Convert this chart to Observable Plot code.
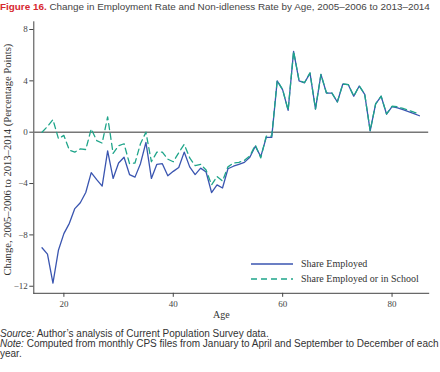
<!DOCTYPE html>
<html>
<head>
<meta charset="utf-8">
<script src="https://cdn.jsdelivr.net/npm/d3@7"></script>
<script src="https://cdn.jsdelivr.net/npm/@observablehq/plot@0.6"></script>
<style>
  html, body { margin: 0; padding: 0; background: #fff; }
  body { width: 440px; height: 372px; position: relative; overflow: hidden; }
  #title { position: absolute; left: 0; top: 1px; font-family: "Liberation Sans", Arial, sans-serif; font-size: 10px; line-height: 12px; color: #444; white-space: nowrap; }
  #title b { color: #d7282f; }
  #chart { position: absolute; left: 0; top: 20px; }
  #legend { position: absolute; left: 250px; top: 256px; font-family: "Liberation Serif", serif; font-size: 10px; color: #333; }
  #legend .row { display: flex; align-items: center; height: 15px; }
  #legend svg { margin-right: 7px; }
  #caption { position: absolute; left: 0; top: 329px; font-family: "Liberation Sans", Arial, sans-serif; font-size: 10px; line-height: 9.8px; color: #333; white-space: nowrap; }
</style>
</head>
<body>
<div id="title"><b>Figure 16.</b> Change in Employment Rate and Non-idleness Rate by Age, 2005–2006 to 2013–2014</div>
<div id="chart"></div>
<div id="legend"></div>
<div id="caption"><i>Source:</i> Author’s analysis of Current Population Survey data.<br><i>Note:</i> Computed from monthly CPS files from January to April and September to December of each<br>year.</div>
<script>
const ages = [16,17,18,19,20,21,22,23,24,25,26,27,28,29,30,31,32,33,34,35,36,37,38,39,40,41,42,43,44,45,46,47,48,49,50,51,52,53,54,55,56,57,58,59,60,61,62,63,64,65,66,67,68,69,70,71,72,73,74,75,76,77,78,79,80,81,82,83,84,85];
const shareEmployed = [-9.0,-9.5,-11.75,-9.2,-7.9,-7.1,-5.95,-5.5,-4.7,-3.15,-3.7,-4.2,-1.45,-3.6,-2.4,-1.95,-3.3,-3.5,-2.45,-0.8,-3.6,-2.5,-2.45,-3.4,-3.05,-2.75,-1.55,-2.7,-3.3,-2.8,-3.1,-4.7,-4.1,-4.35,-2.85,-2.65,-2.5,-2.35,-1.95,-1.1,-1.9,-0.4,-0.4,4.0,3.3,1.7,6.3,4.0,3.85,4.6,1.8,4.5,3.05,3.05,2.35,3.75,3.7,2.8,3.6,2.95,0.1,2.2,2.8,1.4,2.0,1.9,1.75,1.6,1.45,1.28];
const shareEmployedOrSchool = [0.0,0.45,0.98,-0.5,-0.25,-1.4,-1.55,-1.3,-1.35,0.25,-0.65,-0.85,1.2,-1.65,-1.05,-0.9,-2.45,-2.4,-0.9,0.0,-2.3,-1.55,-1.55,-2.1,-2.3,-1.6,-0.95,-2.0,-2.6,-2.5,-2.95,-4.1,-3.45,-3.8,-2.7,-2.4,-2.35,-2.2,-1.85,-1.0,-2.0,-0.3,-0.3,4.02,3.32,1.72,6.3,4.02,3.87,4.62,1.82,4.5,3.07,3.06,2.36,3.76,3.71,2.81,3.61,2.96,0.12,2.21,2.81,1.42,2.02,1.98,1.85,1.72,1.56,1.42];
const seriesNames = ["Share Employed", "Share Employed or in School"];
const seriesColors = ["#3a55b0", "#1fa58a"];
const xTicks = [20, 40, 60, 80];
const yTicks = [-12, -8, -4, 0, 4, 8];
const xLabel = "Age";
const yLabel = "Change, 2005–2006 to 2013–2014 (Percentage Points)";

const rowsA = ages.map((a, i) => ({age: a, value: shareEmployed[i]}));
const rowsB = ages.map((a, i) => ({age: a, value: shareEmployedOrSchool[i]}));

const chart = Plot.plot({
  width: 440,
  height: 302,
  marginLeft: 33.3,
  marginRight: 11.8,
  marginTop: 1.3,
  marginBottom: 29.2,
  style: {fontFamily: "'Liberation Serif', serif", fontSize: "9px", color: "#444", background: "#fff"},
  x: {domain: [14.5, 86.7], ticks: xTicks, label: null, line: true, tickSize: 4, tickPadding: 3},
  y: {domain: [-12.55, 8.6], ticks: yTicks, label: null, line: true, tickSize: 4, tickPadding: 2},
  marks: [
    Plot.ruleY([0], {stroke: "#777", strokeWidth: 1.5}),
    Plot.lineY(rowsA, {x: "age", y: "value", stroke: seriesColors[0], strokeWidth: 1.3}),
    Plot.lineY(rowsB, {x: "age", y: "value", stroke: seriesColors[1], strokeWidth: 1.3, strokeDasharray: "6,4"}),
    Plot.text([yLabel], {frameAnchor: "left", textAnchor: "middle", rotate: -90, dx: -26, dy: 2, fontSize: 10.6, fill: "#333"}),
    Plot.text([xLabel], {frameAnchor: "bottom", textAnchor: "middle", dx: -10, dy: 25, fontSize: 10, fill: "#333"})
  ]
});
document.getElementById("chart").appendChild(chart);

const legend = document.getElementById("legend");
seriesNames.forEach((name, i) => {
  const row = document.createElement("div");
  row.className = "row";
  row.innerHTML = `<svg width="44" height="6"><line x1="1" y1="3" x2="43" y2="3" stroke="${seriesColors[i]}" stroke-width="1.5" ${i === 1 ? 'stroke-dasharray="6,4"' : ''}></line></svg><span>${name}</span>`;
  legend.appendChild(row);
});

// fit title to the reference's width (~431px)
const title = document.getElementById("title");
const w = title.getBoundingClientRect().width;
if (w > 0) title.style.fontSize = (10 * 431 / w).toFixed(2) + "px";
</script>
</body>
</html>
